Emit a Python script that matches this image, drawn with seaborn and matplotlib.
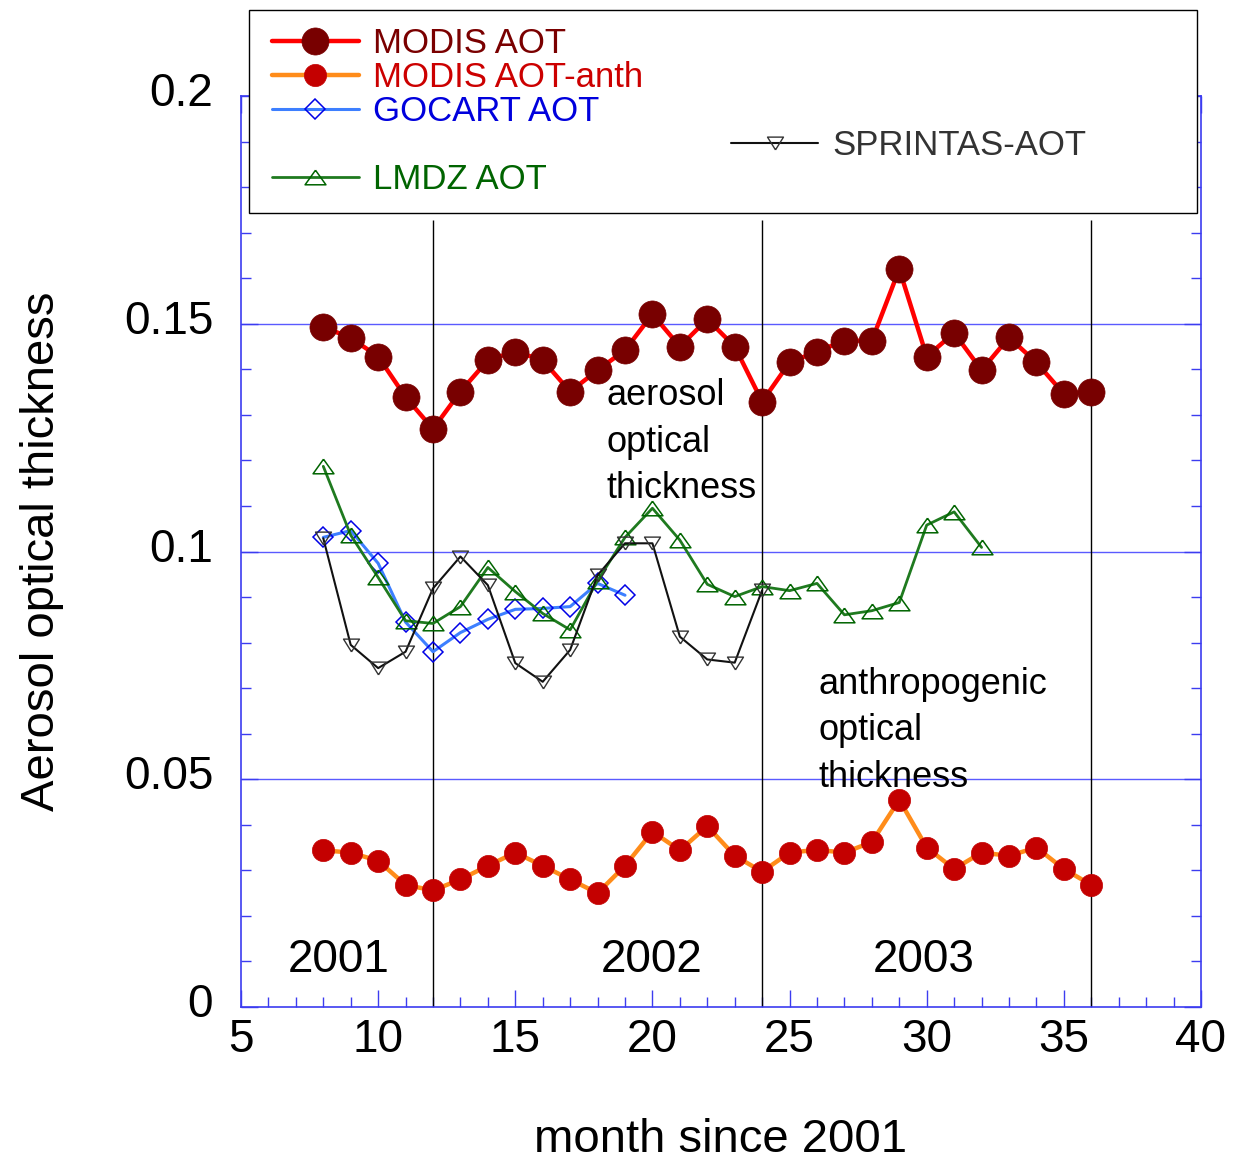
import matplotlib
matplotlib.use("Agg")
import matplotlib.pyplot as plt
from matplotlib.lines import Line2D
from matplotlib.patches import Rectangle
from matplotlib.transforms import ScaledTranslation
from matplotlib.ticker import MultipleLocator, FixedLocator, FixedFormatter
import seaborn as sns

# ---------------- data ----------------
months_modis = list(range(8, 37))
modis_aot = [0.1493, 0.1469, 0.1428, 0.1339, 0.1269, 0.1351, 0.1420, 0.1439, 0.1420, 0.1351,
             0.1398, 0.1442, 0.1521, 0.1450, 0.1510, 0.1450, 0.1329, 0.1415, 0.1439, 0.1463,
             0.1463, 0.1620, 0.1428, 0.1480, 0.1398, 0.1470, 0.1415, 0.1346, 0.1351]
modis_anth = [0.0344, 0.0339, 0.0321, 0.0268, 0.0256, 0.0280, 0.0310, 0.0339, 0.0310, 0.0280,
              0.0250, 0.0310, 0.0385, 0.0344, 0.0397, 0.0332, 0.0297, 0.0339, 0.0345, 0.0339,
              0.0362, 0.0455, 0.0350, 0.0303, 0.0339, 0.0332, 0.0350, 0.0303, 0.0268]
months_gocart = list(range(8, 20))
gocart_aot = [0.1031, 0.1046, 0.0974, 0.0845, 0.0780, 0.0822, 0.0851, 0.0873, 0.0875, 0.0879,
              0.0930, 0.0904]
months_lmdz = list(range(8, 33))
lmdz_aot = [0.1187, 0.1036, 0.0943, 0.0848, 0.0842, 0.0879, 0.0965, 0.0912, 0.0864, 0.0828,
            0.0936, 0.1031, 0.1095, 0.1025, 0.0928, 0.0901, 0.0923, 0.0914, 0.0930, 0.0861,
            0.0870, 0.0888, 0.1058, 0.1087, 0.1009]
months_sprintas = list(range(8, 25))
sprintas_aot = [0.1029, 0.0795, 0.0744, 0.0780, 0.0919, 0.0989, 0.0926, 0.0755, 0.0714, 0.0784,
                0.0948, 0.1018, 0.1018, 0.0813, 0.0763, 0.0756, 0.0915]

year_boundaries = [12, 24, 36]
year_labels = ["2001", "2002", "2003"]
year_label_x = [8.57, 19.98, 29.9]
ytick_values = [0, 0.05, 0.1, 0.15, 0.2]
ytick_labels = ["0", "0.05", "0.1", "0.15", "0.2"]
xtick_values = [5, 10, 15, 20, 25, 30, 35, 40]
xtick_labels = ["5", "10", "15", "20", "25", "30", "35", "40"]

# ---------------- style ----------------
sns.set_theme(style="white")
plt.rcParams["font.family"] = ["Liberation Sans", "DejaVu Sans"]
plt.rcParams["text.color"] = "black"
plt.rcParams["axes.labelcolor"] = "black"
plt.rcParams["xtick.labelcolor"] = "black"
plt.rcParams["ytick.labelcolor"] = "black"

AXBLUE = "#3c3cf0"

fig = plt.figure(figsize=(12.34, 11.6), dpi=100)
ax = fig.add_axes([241 / 1234, 1 - 1007 / 1160, 960 / 1234, 911 / 1160])

ax.set_xlim(5, 40)
ax.set_ylim(0, 0.2)

# grid + year separators
for yv in ytick_values[1:-1]:
    ax.axhline(yv, color="#5a5aff", lw=1.0, zorder=0.5)
ax.vlines(year_boundaries, 0, 0.1728, colors="black", lw=1.0, zorder=0.6)

tri_up = [(0, 0.7), (-1, -0.7), (1, -0.7), (0, 0.7)]
tri_dn = [(0, -0.8), (-1, 0.8), (1, 0.8), (0, -0.8)]

sns.lineplot(x=months_modis, y=modis_aot, ax=ax, color="#ff0000", lw=3.2,
             marker="o", markersize=19.5, markerfacecolor="#780000",
             markeredgecolor="#780000", markeredgewidth=0.5, zorder=5)
h_modis = ax.lines[-1]
sns.lineplot(x=months_modis, y=modis_anth, ax=ax, color="#ff8c1a", lw=3.2,
             marker="o", markersize=16, markerfacecolor="#c40000",
             markeredgecolor="#c40000", markeredgewidth=0.5, zorder=5)
h_anth = ax.lines[-1]
sns.lineplot(x=months_gocart, y=gocart_aot, ax=ax, color="#3d7fff", lw=2.2,
             marker="D", markersize=10.5, markerfacecolor="none",
             markeredgecolor="#0000e6", markeredgewidth=1.1, zorder=3)
h_gocart = ax.lines[-1]
sns.lineplot(x=months_lmdz, y=lmdz_aot, ax=ax, color="#1f7a1f", lw=2.0,
             marker=tri_up, markersize=15, markerfacecolor="none",
             markeredgecolor="#006400", markeredgewidth=1.1, zorder=4)
h_lmdz = ax.lines[-1]
sns.lineplot(x=months_sprintas, y=sprintas_aot, ax=ax, color="#111111", lw=1.5,
             marker=tri_dn, markersize=11.5, markerfacecolor="none",
             markeredgecolor="#333333", markeredgewidth=1.0, zorder=4)
h_spr = ax.lines[-1]

# ---------------- axes styling ----------------
for s in ax.spines.values():
    s.set_color(AXBLUE)
    s.set_linewidth(1.2)
ax.xaxis.set_major_locator(FixedLocator(xtick_values))
ax.xaxis.set_major_formatter(FixedFormatter(xtick_labels))
ax.xaxis.set_minor_locator(MultipleLocator(1))
ax.yaxis.set_major_locator(FixedLocator(ytick_values))
ax.yaxis.set_major_formatter(FixedFormatter(ytick_labels))
ax.yaxis.set_minor_locator(MultipleLocator(0.01))
ax.tick_params(axis="both", which="both", direction="in", color=AXBLUE,
               top=True, right=True, bottom=True, left=True)
ax.tick_params(axis="both", which="major", length=12, width=1.0, labelsize=33,
               labelcolor="black")
ax.tick_params(axis="both", which="minor", length=7, width=1.0)
ax.tick_params(axis="x", which="major", pad=8)
ax.tick_params(axis="y", which="major", pad=20)

# y tick labels sit slightly above their ticks in the reference
for lab in ax.get_yticklabels():
    lab.set_transform(lab.get_transform() + ScaledTranslation(0, 0.07, fig.dpi_scale_trans))

ax.set_xlabel("month since 2001", fontsize=34, labelpad=40, color="black")
ax.set_ylabel("Aerosol optical thickness", fontsize=34, labelpad=43, color="black")

# annotations
for xl, lab in zip(year_label_x, year_labels):
    ax.text(xl, 0.0103, lab, fontsize=33, ha="center", va="center", color="black")
ax.text(18.34, 0.124, "aerosol\noptical\nthickness", fontsize=26, ha="left",
        va="center", linespacing=1.43, color="black", zorder=6)
ax.text(26.04, 0.0606, "anthropogenic\noptical\nthickness", fontsize=26, ha="left",
        va="center", linespacing=1.43, color="black", zorder=6)

# ---------------- legend ----------------
fig.patches.append(Rectangle((249 / 1234, 1 - 213 / 1160), 948 / 1234, 203 / 1160,
                             transform=fig.transFigure, facecolor="white",
                             edgecolor="black", lw=1.0, zorder=1))
blank = Line2D([], [], linestyle="none")
handles = [h_modis, h_anth, h_gocart, blank, h_lmdz, blank, blank, blank, h_spr, blank]
labels = ["MODIS AOT", "MODIS AOT-anth", "GOCART AOT", " ", "LMDZ AOT",
          " ", " ", " ", "SPRINTAS-AOT", " "]
leg = fig.legend(handles, labels, loc="upper left", ncol=2,
                 bbox_to_anchor=(272 / 1234, 1 - 27 / 1160), bbox_transform=fig.transFigure,
                 frameon=False, fontsize=25, borderpad=0, borderaxespad=0,
                 handlelength=2.5, handletextpad=0.4, labelspacing=0.03,
                 columnspacing=2.55, numpoints=1)
leg.set_zorder(5)
text_colors = ["#7a0000", "#cc0000", "#0000dd", "black", "#006400",
               "black", "black", "black", "#333333", "black"]
for t, c in zip(leg.get_texts(), text_colors):
    t.set_color(c)

fig.savefig("out.png", dpi=100)
